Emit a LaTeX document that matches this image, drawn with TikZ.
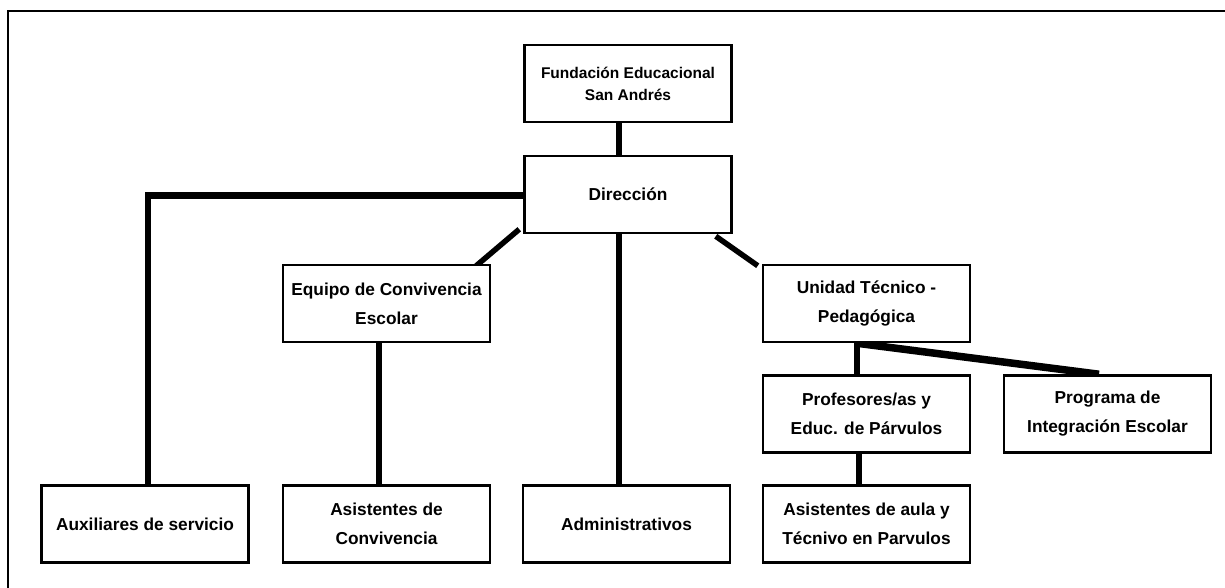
\documentclass[tikz,border=0pt]{standalone}
\usepackage{fontspec}
\setmainfont{Liberation Sans}
\usetikzlibrary{backgrounds}
\begin{document}
\begin{tikzpicture}[x=1pt,y=-1pt,
  box/.style={draw, line width=2.5pt, fill=white, minimum width=207pt, minimum height=77pt,
    align=center, inner sep=2pt, font=\fontsize{17.3}{29}\selectfont\bfseries},
  smallbox/.style={box, font=\fontsize{15.5}{22}\selectfont\bfseries},
  conn/.style={line width=5.5pt},
  thickconn/.style={line width=7.5pt},
  frameline/.style={line width=2pt}]
\useasboundingbox (0,0) rectangle (1225,588);
\draw[frameline] (1240,11) -- (8,11) -- (8,600);

\node[smallbox] (fund) at (628,83.5) {Fundación Educacional\\San Andrés};
\node[box] (dir) at (628,194.5) {Dirección};
\node[box] (equipo) at (386.5,303.5) {Equipo de Convivencia\\Escolar};
\node[box] (unidad) at (866.5,303.5) {Unidad Técnico -\\Pedagógica};
\node[box] (prof) at (866.5,414) {Profesores/as y\\Educ. de Párvulos};
\node[box] (prog) at (1107.5,414) {Programa de\\Integración Escolar};
\node[box] (aux) at (145,524) {Auxiliares de servicio};
\node[box] (asc) at (386.5,524) {Asistentes de\\Convivencia};
\node[box] (adm) at (626.5,524) {Administrativos};
\node[box] (asa) at (866.5,524) {Asistentes de aula y\\Técnivo en Parvulos};

\coordinate (auxc) at ([xshift=3pt]aux.north |- dir.west);

\begin{pgfonlayer}{background}
\draw[conn] ([xshift=-9pt]fund.south) -- ([xshift=-9pt]dir.north);
\draw[thickconn] ([yshift=-1pt]dir.west) -- ([xshift=-3pt,yshift=-1pt]auxc);
\draw[conn] ([yshift=2.5pt]auxc) -- ([xshift=3pt]aux.north);
\draw[conn] ([shift={(-4,-5)}]dir.south west) -- ([shift={(-15,2)}]equipo.north east);
\draw[conn] ([shift={(-17,2)}]dir.south east) -- ([shift={(-4,2)}]unidad.north west);
\draw[conn] ([xshift=-9pt]dir.south) -- ([xshift=-9pt]dir.south |- adm.north);
\draw[conn] ([xshift=-7.5pt]equipo.south) -- ([xshift=-7.5pt]asc.north);
\draw[conn] ([xshift=-9.5pt]unidad.south) -- ([xshift=-9.5pt]prof.north);
\draw[thickconn] ([xshift=-9.5pt]unidad.south) -- ([xshift=-8.5pt]prog.north);
\draw[conn] ([xshift=-7.5pt]prof.south) -- ([xshift=-7.5pt]asa.north);
\end{pgfonlayer}
\end{tikzpicture}
\end{document}
